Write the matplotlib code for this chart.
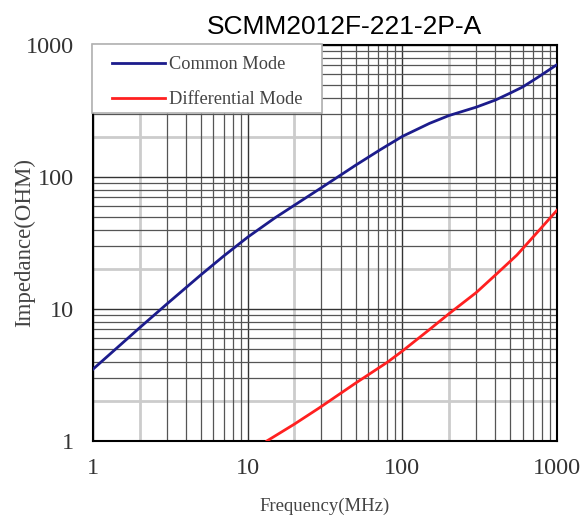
import matplotlib.pyplot as plt
from matplotlib.patches import Rectangle
from matplotlib.ticker import LogLocator, NullFormatter, FixedLocator

# values
cm_freq = [1, 2, 3, 5, 7, 10, 15, 20, 30, 50, 72, 100, 150, 200, 300, 400, 500, 600, 740, 1000]
cm_imp = [3.5, 7.2, 10.9, 18.2, 25.2, 35, 49, 61, 83, 123, 161, 203, 255, 292, 338, 383, 433, 481, 562, 710]

dm_freq = [13, 13.3, 20, 29, 50, 80, 100, 150, 200, 300, 400, 550, 740, 1000]
dm_imp = [0.97, 1.0, 1.34, 1.78, 2.75, 3.95, 4.8, 7.0, 9.2, 13.3, 18.1, 25.6, 37.7, 56]

ticks = [1, 10, 100, 1000]
tick_labels = ["1", "10", "100", "1000"]

serif = "Liberation Serif"

fig = plt.figure(figsize=(5.84, 5.25), dpi=100)
ax = fig.add_axes([93 / 584, 1 - 441 / 525, (557 - 93) / 584, (441 - 45) / 525])

ax.plot(cm_freq, cm_imp, color="#1c1c8c", lw=2, label="Common Mode", zorder=3)
ax.plot(dm_freq, dm_imp, color="#ff2020", lw=2, label="Differential Mode", zorder=3)

ax.set_xscale("log")
ax.set_yscale("log")
ax.set_xlim(1, 1000)
ax.set_ylim(1, 1000)

ax.xaxis.set_major_locator(FixedLocator(ticks))
ax.yaxis.set_major_locator(FixedLocator(ticks))
ax.set_xticklabels(tick_labels, fontfamily=serif, fontsize=17.5, color="#333333")
ax.set_yticklabels(tick_labels, fontfamily=serif, fontsize=17.5, color="#333333")
ax.xaxis.set_minor_formatter(NullFormatter())
ax.yaxis.set_minor_formatter(NullFormatter())
ax.tick_params(which="both", length=0)
ax.tick_params(axis="x", pad=12)
ax.tick_params(axis="y", pad=14)

# grid: the "2" lines are pale, the rest dark
ax.xaxis.set_minor_locator(LogLocator(base=10, subs=range(3, 10)))
ax.yaxis.set_minor_locator(LogLocator(base=10, subs=range(3, 10)))
ax.grid(which="major", color="#333333", lw=1)
ax.grid(which="minor", color="#555555", lw=0.9)
for v in [2, 20, 200]:
    ax.axvline(v, color="#cccccc", lw=2, zorder=0.5)
    ax.axhline(v, color="#cccccc", lw=2, zorder=0.5)
for s in ax.spines.values():
    s.set_linewidth(1.5)
    s.set_color("black")

ax.set_xlabel("Frequency(MHz)", fontfamily=serif, fontsize=13.5, color="#444444", labelpad=14)
ax.set_ylabel("Impedance(OHM)", fontfamily=serif, fontsize=16.5, color="#444444", labelpad=-7)
ax.set_title("SCMM2012F-221-2P-A", fontfamily="Liberation Sans", fontsize=19,
             x=0.543, pad=8)

# legend box drawn separately so the inner padding can match
ax.add_patch(Rectangle((-0.002, 0.828), 0.496, 0.1745, transform=ax.transAxes,
                       facecolor="white", edgecolor="#b0b0b0", lw=1.2, zorder=4.9,
                       clip_on=False))
leg = ax.legend(loc="upper left", bbox_to_anchor=(0.041, 0.972), frameon=False,
                prop={"family": serif, "size": 13.2}, borderpad=0, labelspacing=1.0,
                handlelength=2.9, handletextpad=0.2, borderaxespad=0)
leg.set_zorder(5)
for t in leg.get_texts():
    t.set_color("#444444")

fig.savefig("out.png", dpi=100)
